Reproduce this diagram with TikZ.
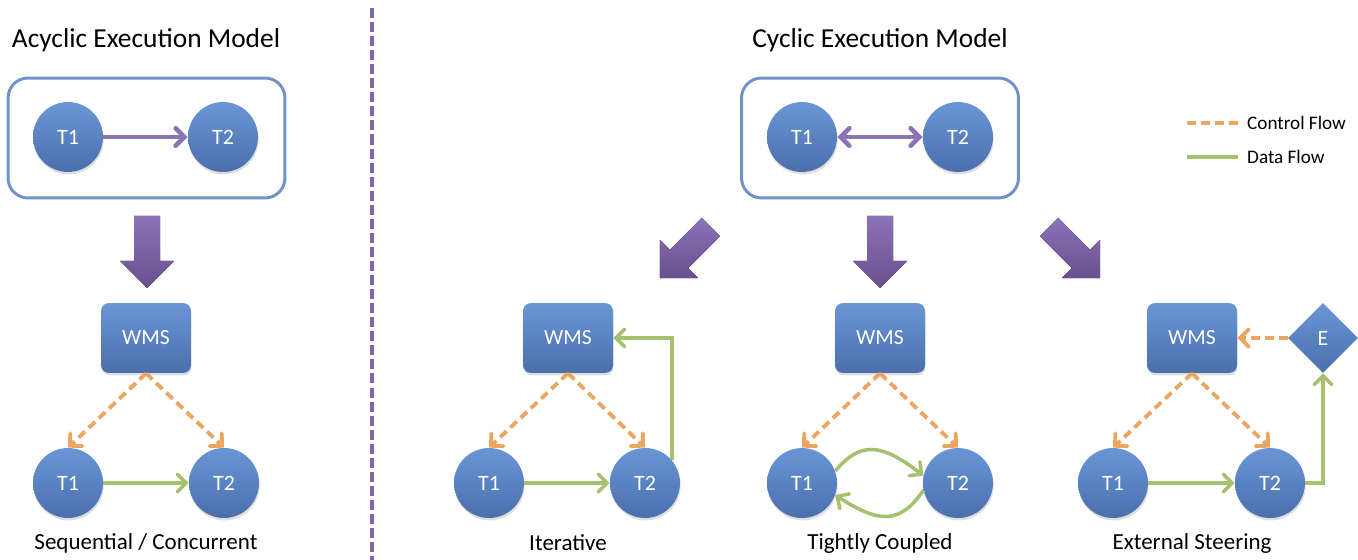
\documentclass[tikz,border=0pt]{standalone}
\usepackage{fontspec}
\setmainfont{Carlito}
\usetikzlibrary{arrows.meta,shapes.geometric,shadows}
\definecolor{ctop}{HTML}{6A96D6}
\definecolor{cbot}{HTML}{4A6FAC}
\definecolor{boxline}{HTML}{7093C8}
\definecolor{purp}{HTML}{8B74B3}
\definecolor{ptop}{HTML}{8C72B6}
\definecolor{pbot}{HTML}{68508F}
\definecolor{orng}{HTML}{EDA661}
\definecolor{grn}{HTML}{A6C06E}
\definecolor{divc}{HTML}{8167A9}
\tikzset{
  task/.style={circle, minimum size=1.4cm, inner sep=0pt, top color=ctop, bottom color=cbot, draw=none, text=white, font=\fontsize{12.5}{14}\selectfont, drop shadow={opacity=0.25, shadow xshift=0.4pt, shadow yshift=-1.4pt}},
  wms/.style={rectangle, rounded corners=0.16cm, minimum width=1.8cm, minimum height=1.4cm, inner sep=0pt, top color=ctop, bottom color=cbot, text=white, font=\fontsize{12.3}{14}\selectfont, drop shadow={opacity=0.25, shadow xshift=0.4pt, shadow yshift=-1.4pt}},
  ext/.style={diamond, minimum width=1.4cm, minimum height=1.4cm, inner sep=0pt, top color=ctop, bottom color=cbot, text=white, font=\fontsize{12.5}{14}\selectfont},
  group/.style={draw=boxline, line width=1.7pt, rounded corners=0.4cm},
  ctrl/.style={draw=orng, line width=2.2pt, dash pattern=on 5pt off 3pt, -{Straight Barb[length=5pt,width=10pt,line cap=round]}},
  data/.style={draw=grn, line width=2pt, -{Straight Barb[length=5pt,width=10pt,line cap=round]}},
  link/.style={draw=purp, line width=2.6pt, line cap=round},
  bigarrow/.style={top color=ptop, bottom color=pbot, draw=none},
  title/.style={font=\fontsize{15.6}{18}\selectfont},
  caption/.style={font=\fontsize{13.1}{15}\selectfont},
  legend/.style={font=\fontsize{10.9}{13}\selectfont, anchor=west},
}
\newcommand\blockarrow[2]{\fill[bigarrow, shift={#1}, rotate=#2] (-13,0) -- (13,0) -- (13,45) -- (27,45) -- (0,72) -- (-27,45) -- (-13,45) -- cycle;}
\begin{document}
\begin{tikzpicture}[x=0.02cm, y=-0.02cm]
\useasboundingbox (0,0) rectangle (1358,560);
% divider
\draw[divc, line width=2.3pt, dash pattern=on 5.7pt off 2.3pt] (372,8) -- (372,560);
% titles
\node[title] (tA) at (146,40) {Acyclic Execution Model};
\node[title] (tC) at (880,40) {Cyclic Execution Model};
% ---------- acyclic top ----------
\node[group, minimum width=5.54cm, minimum height=2.4cm] (gA) at (146.5,138) {};
\node[task] (a1) at (68,137) {T1};
\node[task] (a2) at (223,137) {T2};
\draw[link, -{Straight Barb[length=5pt,width=10pt,line cap=round]}] (a1) -- (a2);
\blockarrow{(147,216)}{0}
% ---------- cyclic top ----------
\node[group, minimum width=5.54cm, minimum height=2.4cm] (gC) at (880,138) {};
\node[task] (c1) at (802,137) {T1};
\node[task] (c2) at (958,137) {T2};
\draw[link, {Straight Barb[length=5pt,width=10pt,line cap=round]}-{Straight Barb[length=5pt,width=10pt,line cap=round]}] (c1) -- (c2);
\blockarrow{(710.9,227.1)}{-45}
\blockarrow{(880,216)}{0}
\blockarrow{(1049.1,227.1)}{45}
% legend
\draw[orng, line width=2.2pt, dash pattern=on 5pt off 3pt] (1187,123) -- (1238,123);
\node[legend] (lc) at (1241,123) {Control Flow};
\draw[grn, line width=2pt] (1187,157) -- (1238,157);
\node[legend] (ld) at (1241,157) {Data Flow};
% ---------- Sequential ----------
\node[wms] (w1) at (146,338) {WMS};
\node[task] (s1) at (68,483) {T1};
\node[task] (s2) at (224,483) {T2};
\draw[ctrl] (w1.south) -- (s1.north);
\draw[ctrl] (w1.south) -- (s2.north);
\draw[data] (s1) -- (s2);
\node[caption] (cs) at (146,543) {Sequential / Concurrent};
% ---------- Iterative ----------
\node[wms] (w2) at (568,338) {WMS};
\node[task] (i1) at (489,483) {T1};
\node[task] (i2) at (645,483) {T2};
\draw[ctrl] (w2.south) -- (i1.north);
\draw[ctrl] (w2.south) -- (i2.north);
\draw[data] (i1) -- (i2);
\draw[data] (i2.40) |- (w2.east);
\node[caption] (ci) at (568,543) {Iterative};
% ---------- Tightly coupled ----------
\node[wms] (w3) at (880,338) {WMS};
\node[task] (k1) at (802,483) {T1};
\node[task] (k2) at (958,483) {T2};
\draw[ctrl] (w3.south) -- (k1.north);
\draw[ctrl] (w3.south) -- (k2.north);
\draw[data] (k1.20) .. controls (860,442) and (880,442) .. (k2.168);
\draw[data] (k2.-168) .. controls (900,524) and (880,524) .. (k1.-20);
\node[caption] (ck) at (880,543) {Tightly Coupled};
% ---------- External steering ----------
\node[wms] (w4) at (1192,338) {WMS};
\node[ext] (e) at (1323,338) {E};
\node[task] (x1) at (1113,483) {T1};
\node[task] (x2) at (1270,483) {T2};
\draw[ctrl] (w4.south) -- (x1.north);
\draw[ctrl] (w4.south) -- (x2.north);
\draw[ctrl] (e.west) -- (w4.east);
\draw[data] (x1) -- (x2);
\draw[data] (x2.east) -| (e.south);
\node[caption] (cx) at (1192,543) {External Steering};
\end{tikzpicture}
\end{document}
